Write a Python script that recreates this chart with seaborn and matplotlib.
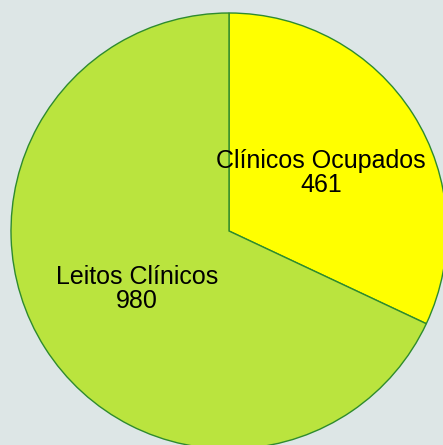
import matplotlib
matplotlib.use("Agg")
import matplotlib.pyplot as plt
import seaborn as sns

# data
labels = ["Clínicos Ocupados", "Leitos Clínicos"]
values = [461, 980]
colors = ["#ffff00", "#bae43e"]

sns.set_theme(style="white")
plt.rcParams['font.family'] = ['Liberation Sans', 'DejaVu Sans']

fig = plt.figure(figsize=(4.43, 4.45), dpi=100, facecolor="#dde6e6")
ax = fig.add_axes([11 / 443, -4 / 445, 436 / 443, 436 / 445])
ax.set_facecolor("#dde6e6")

counter = {"i": 0}


def autopct(pct):
    # label + absolute value inside each slice
    i = counter["i"]
    counter["i"] += 1
    return f"{labels[i]}\n{values[i]}"


wedges, texts, autotexts = ax.pie(values, colors=colors, startangle=90, counterclock=False,
                                  autopct=autopct, pctdistance=0.5,
                                  wedgeprops=dict(edgecolor="#2e8b2e", linewidth=1.0),
                                  textprops=dict(fontsize=18, color="black", linespacing=1.0))
for t in autotexts:
    t.set_ha("center")
    t.set_multialignment("center")

ax.set_xlim(-1, 1)
ax.set_ylim(-1, 1)
ax.set_aspect("equal")
ax.axis("off")

fig.savefig("out.png", dpi=100, facecolor=fig.get_facecolor())
